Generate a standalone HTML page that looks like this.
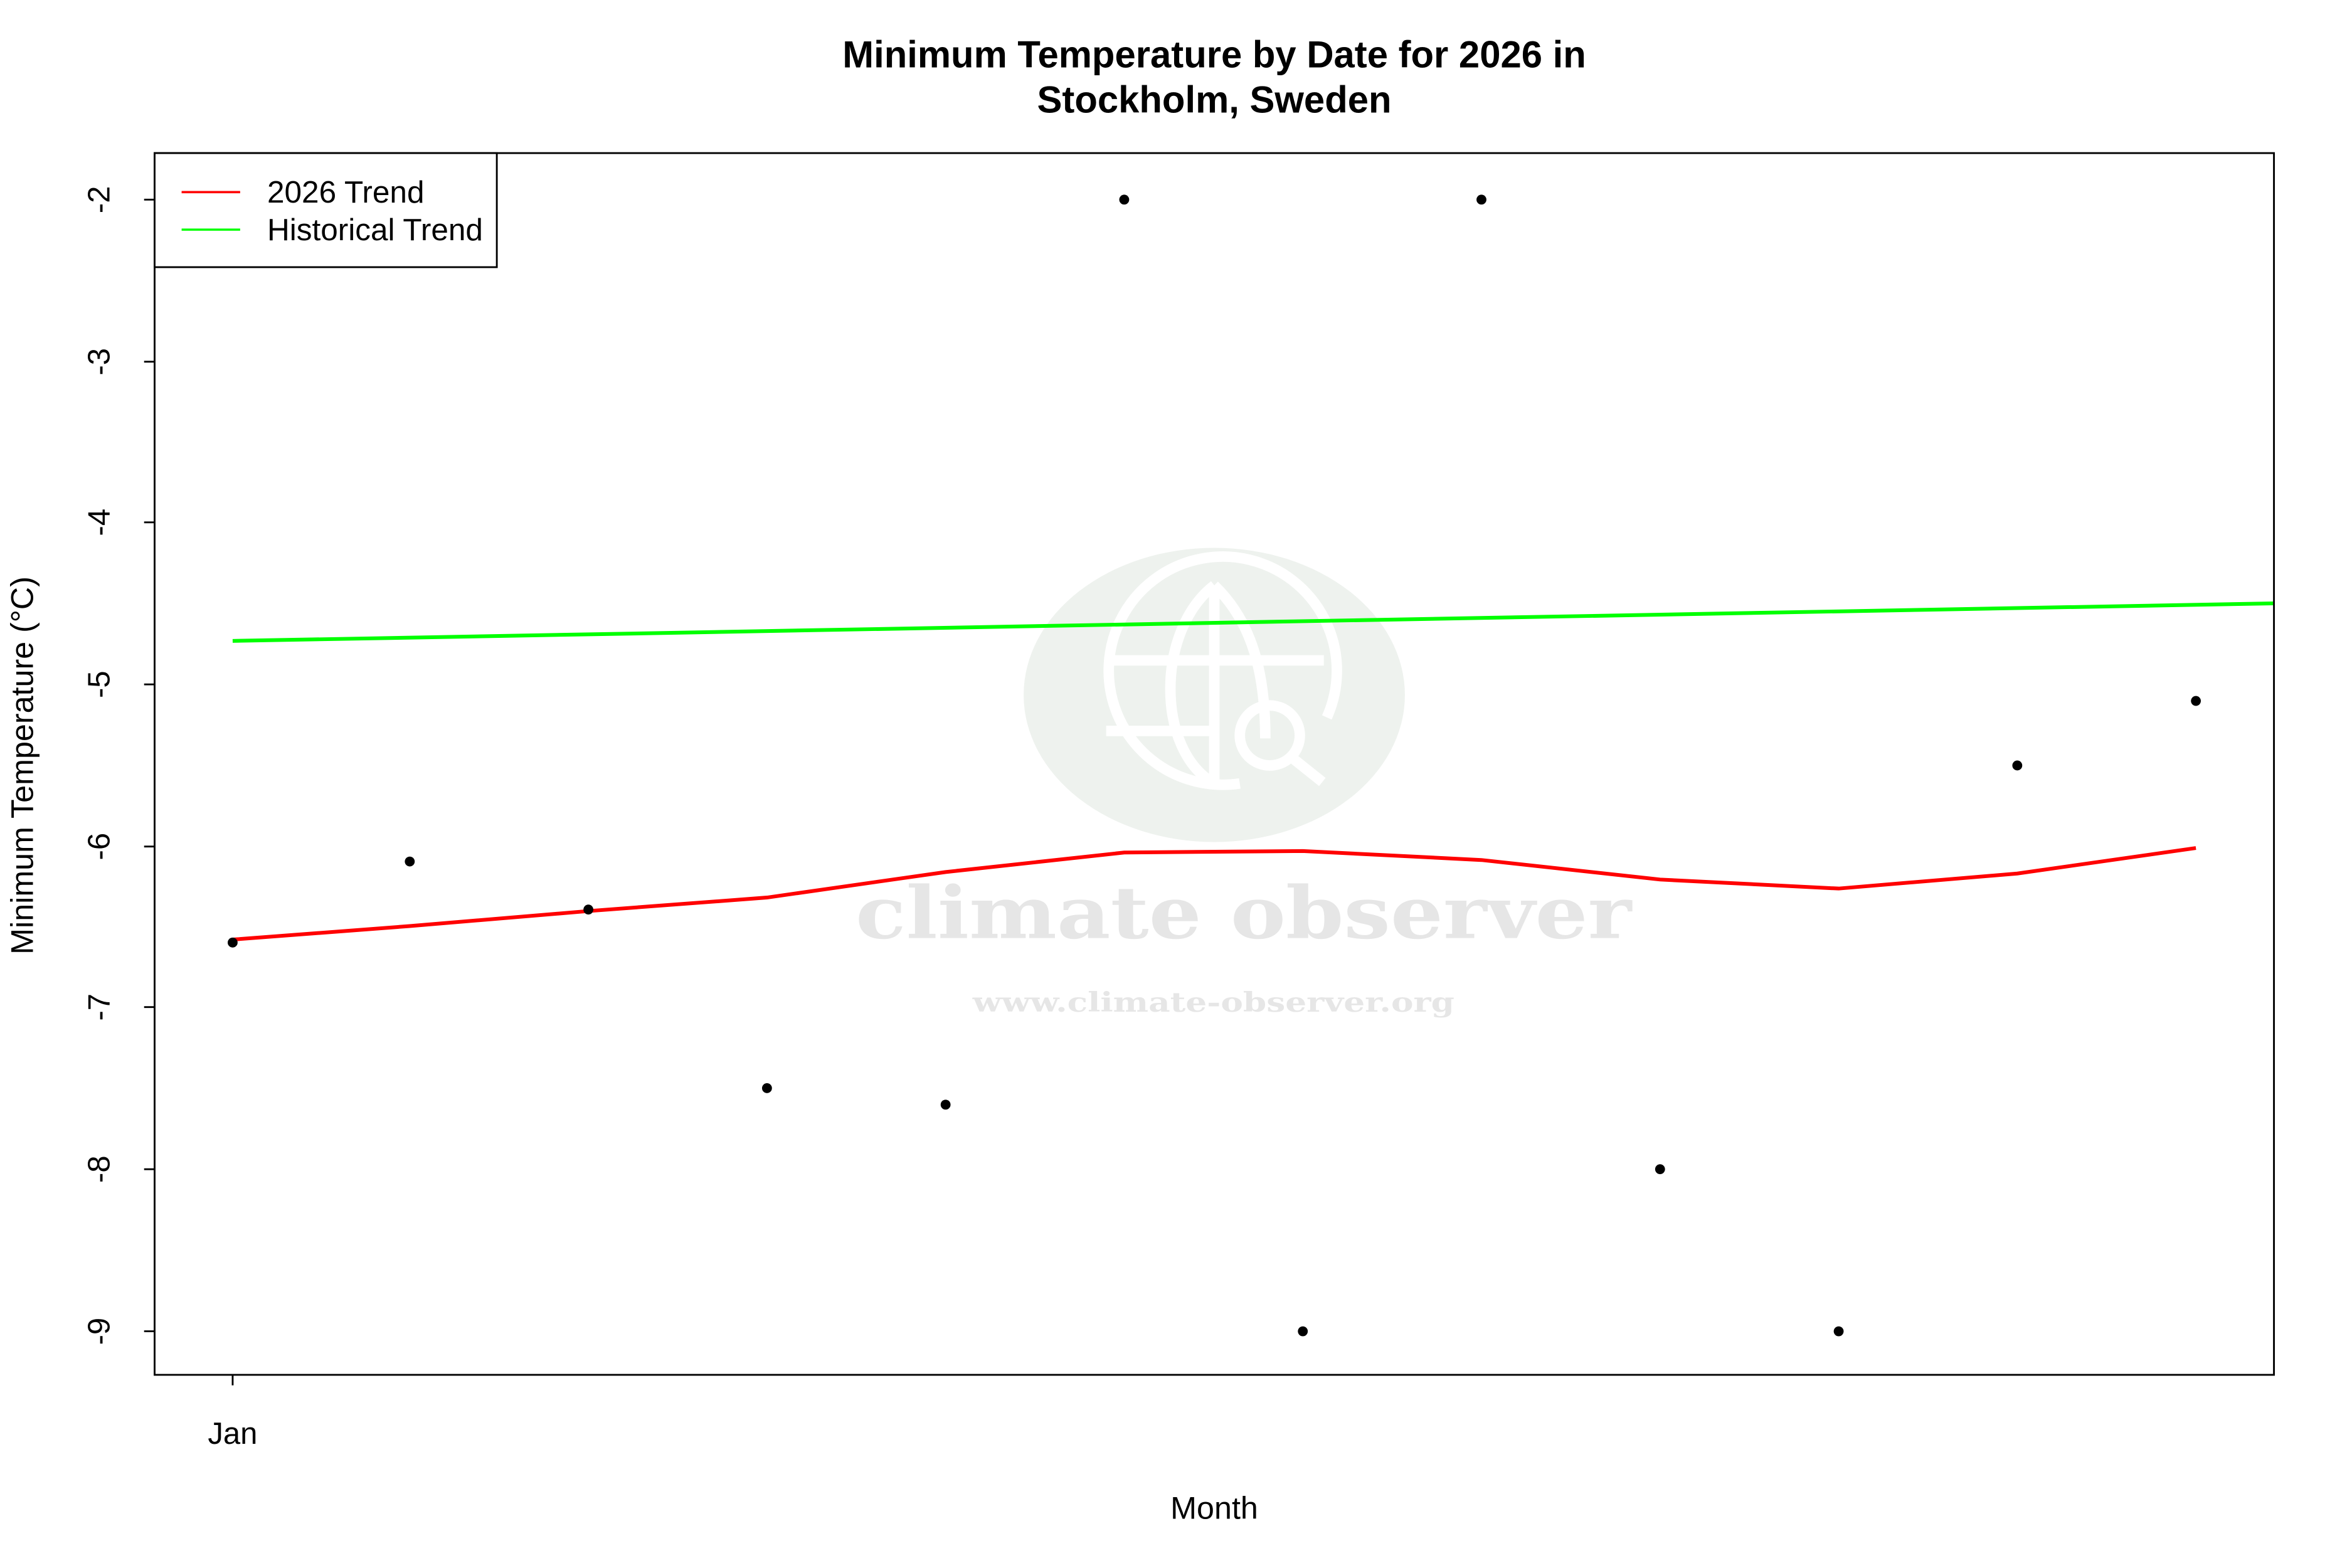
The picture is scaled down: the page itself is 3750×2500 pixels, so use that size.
<!DOCTYPE html>
<html><head><meta charset="utf-8"><style>
html,body{margin:0;padding:0;background:#fff;}
svg{display:block;}
text{font-family:"Liberation Sans",sans-serif;}
</style></head><body>
<svg width="3750" height="2500" viewBox="0 0 1567 1044.7" preserveAspectRatio="none" xmlns="http://www.w3.org/2000/svg">
<rect width="1567" height="1045" fill="#fff"/>
<!-- watermark -->
<ellipse cx="809" cy="463" rx="127" ry="98" fill="#eef2ee"/>
<g fill="none" stroke="#fff" stroke-width="7">
<path d="M826 522 A76 76 0 1 1 884 478"/>
<path d="M809 390 C770 420 770 500 809 522"/>
<path d="M809 390 C835 415 843 450 843 492"/>
<line x1="809" y1="390" x2="809" y2="522"/>
<line x1="737" y1="440" x2="882" y2="440"/>
<line x1="737" y1="487" x2="812" y2="487"/>
<circle cx="846" cy="490" r="20"/>
<line x1="861" y1="505" x2="881" y2="521"/>
</g>
<text x="570" y="625" textLength="517" lengthAdjust="spacingAndGlyphs" font-weight="bold" font-size="48" fill="#e6e6e6" style="font-family:'DejaVu Serif',serif">climate observer</text>
<text x="648" y="674" textLength="321" lengthAdjust="spacingAndGlyphs" font-weight="bold" font-size="18" fill="#e6e6e6" style="font-family:'DejaVu Serif',serif">www.climate-observer.org</text>
<!-- title -->
<text x="809" y="45" text-anchor="middle" font-weight="bold" font-size="25">Minimum Temperature by Date for 2026 in</text>
<text x="809" y="75" text-anchor="middle" font-weight="bold" font-size="25">Stockholm, Sweden</text>
<!-- lines -->
<line x1="155" y1="427" x2="1515" y2="402" stroke="#00ff00" stroke-width="2.5"/>
<polyline fill="none" stroke="#ff0000" stroke-width="2.5" points="155,626 273,617 392,607 511,598 630,581 749,568 868,567 987,573 1106,586 1225,592 1344,582 1463,565"/>
<!-- points -->
<g fill="#000">
<circle cx="155" cy="628" r="3.3"/><circle cx="273" cy="574" r="3.3"/><circle cx="392" cy="606" r="3.3"/>
<circle cx="511" cy="725" r="3.3"/><circle cx="630" cy="736" r="3.3"/><circle cx="749" cy="133" r="3.3"/>
<circle cx="868" cy="887" r="3.3"/><circle cx="987" cy="133" r="3.3"/><circle cx="1106" cy="779" r="3.3"/>
<circle cx="1225" cy="887" r="3.3"/><circle cx="1344" cy="510" r="3.3"/><circle cx="1463" cy="467" r="3.3"/>
</g>
<!-- box -->
<rect x="103" y="102" width="1412" height="814" fill="none" stroke="#000" stroke-width="1.2"/>
<!-- y ticks -->
<g stroke="#000" stroke-width="1.2">
<line x1="96" y1="133" x2="103" y2="133"/><line x1="96" y1="241" x2="103" y2="241"/><line x1="96" y1="348" x2="103" y2="348"/>
<line x1="96" y1="456" x2="103" y2="456"/><line x1="96" y1="564" x2="103" y2="564"/><line x1="96" y1="671" x2="103" y2="671"/>
<line x1="96" y1="779" x2="103" y2="779"/><line x1="96" y1="887" x2="103" y2="887"/>
<line x1="155" y1="916" x2="155" y2="923"/>
</g>
<g font-size="20.5" text-anchor="middle">
<text transform="translate(73,133) rotate(-90)">-2</text>
<text transform="translate(73,241) rotate(-90)">-3</text>
<text transform="translate(73,348) rotate(-90)">-4</text>
<text transform="translate(73,456) rotate(-90)">-5</text>
<text transform="translate(73,564) rotate(-90)">-6</text>
<text transform="translate(73,671) rotate(-90)">-7</text>
<text transform="translate(73,779) rotate(-90)">-8</text>
<text transform="translate(73,887) rotate(-90)">-9</text>
<text x="155" y="962">Jan</text>
<text x="809" y="1012" font-size="21">Month</text>
<text transform="translate(22,510) rotate(-90)" font-size="21">Minimum Temperature (°C)</text>
</g>
<!-- legend -->
<rect x="103" y="102" width="228" height="76" fill="#fff" stroke="#000" stroke-width="1.2"/>
<line x1="121" y1="128" x2="160" y2="128" stroke="#ff0000" stroke-width="1.5"/>
<line x1="121" y1="153" x2="160" y2="153" stroke="#00ff00" stroke-width="1.5"/>
<text x="178" y="135" font-size="20.7">2026 Trend</text>
<text x="178" y="160" font-size="20.7">Historical Trend</text>
</svg>
</body></html>
